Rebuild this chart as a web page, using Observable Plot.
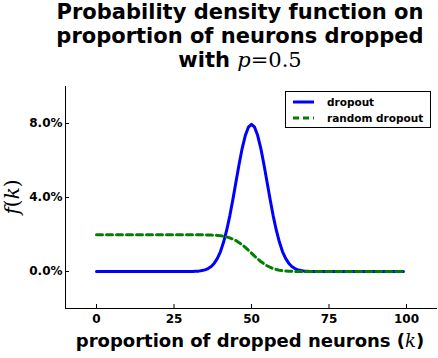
<!DOCTYPE html>
<html>
<head>
<meta charset="utf-8">
<script src="https://cdn.jsdelivr.net/npm/d3@7"></script>
<script src="https://cdn.jsdelivr.net/npm/@observablehq/plot@0.6"></script>
<style>
  body { margin: 0; background: #fff; }
  #wrap { position: relative; width: 438px; height: 358px; font-family: "DejaVu Sans", sans-serif; }
  .abs { position: absolute; white-space: nowrap; }
  #title { left: 0; top: 0; width: 438px; padding-left: 42px; box-sizing: border-box; text-align: center;
           font-size: 21px; font-weight: bold; line-height: 24px; padding-top: 0px; }
  .m { font-family: "DejaVu Serif", serif; font-weight: normal; }
  .mi { font-family: "DejaVu Serif", serif; font-style: italic; font-weight: normal; }
  #xlabel { left: 0; width: 438px; padding-left: 62px; box-sizing: border-box; text-align: center; top: 331px;
            font-size: 18px; font-weight: bold; line-height: 20px; }
  #ylabel { left: 12px; top: 197px; transform: translate(-50%, -50%) rotate(-90deg); font-size: 20px; line-height: 20px; }
  #legend { left: 285px; top: 91px; width: 144px; height: 35px; border: 1px solid #000; background: #fff; font-size: 10.5px; font-weight: bold; }
  #legend .row { position: absolute; left: 0; height: 16px; line-height: 16px; }
  #legend svg { position: absolute; left: 7px; top: 0; }
  #legend span { position: absolute; left: 41px; top: 0; }
</style>
</head>
<body>
<div id="wrap"></div>
<script>
// k = 0..99
const k = d3.range(0, 100);
const dropout = [
  0,0,0,0,0,0,0,0,0,0,
  0,0,0,0,0,0,0,0,0,0,
  0,0,0,0,0,0,0,0,0,0,
  0,0,0.0001,0.0002,0.0005,0.0009,0.0016,0.0027,0.0045,0.0071,
  0.0108,0.0159,0.0223,0.0301,0.0390,0.0485,0.0580,0.0666,0.0735,0.0780,
  0.0796,0.0780,0.0735,0.0666,0.0580,0.0485,0.0390,0.0301,0.0223,0.0159,
  0.0108,0.0071,0.0045,0.0027,0.0016,0.0009,0.0005,0.0002,0.0001,0,
  0,0,0,0,0,0,0,0,0,0,
  0,0,0,0,0,0,0,0,0,0,
  0,0,0,0,0,0,0,0,0,0
];
const randomDropout = [
  0.0198,0.0198,0.0198,0.0198,0.0198,0.0198,0.0198,0.0198,0.0198,0.0198,
  0.0198,0.0198,0.0198,0.0198,0.0198,0.0198,0.0198,0.0198,0.0198,0.0198,
  0.0198,0.0198,0.0198,0.0198,0.0198,0.0198,0.0198,0.0198,0.0198,0.0198,
  0.0198,0.0198,0.0198,0.0198,0.0198,0.0198,0.0197,0.0197,0.0196,0.0195,
  0.0193,0.0191,0.0187,0.0182,0.0175,0.0167,0.0156,0.0144,0.0130,0.0115,
  0.0099,0.0083,0.0068,0.0054,0.0042,0.0031,0.0023,0.0016,0.0011,0.0007,
  0.0005,0.0003,0.0002,0.0001,0,0,0,0,0,0,
  0,0,0,0,0,0,0,0,0,0,
  0,0,0,0,0,0,0,0,0,0,
  0,0,0,0,0,0,0,0,0,0
];
const xTicks = [0, 25, 50, 75, 100];
const yTicks = [0, 0.04, 0.08];
const xDomain = [-10, 110];
const yDomain = [-0.02, 0.1];

const seriesDropout = k.map((v, i) => ({k: v, f: dropout[i]}));
const seriesRandom = k.map((v, i) => ({k: v, f: randomDropout[i]}));

const W = 438, H = 358, mt = 86, mb = 50, ml = 65, mr = 1;
const ih = H - mt - mb, iw = W - ml - mr;

const chart = Plot.plot({
  width: W, height: H,
  marginTop: mt, marginBottom: mb, marginLeft: ml, marginRight: mr,
  style: {fontFamily: "DejaVu Sans", fontSize: "12px", fontWeight: "bold", color: "#000", background: "transparent"},
  x: {domain: xDomain},
  y: {domain: yDomain},
  marks: [
    Plot.axisX({ticks: xTicks, tickSize: 0, tickPadding: 6, label: null, tickFormat: d3.format("d"), fontSize: 12}),
    Plot.axisY({ticks: yTicks, tickSize: 0, tickPadding: 3, label: null, tickFormat: d3.format(".1%"), fontSize: 12}),
    Plot.tickX(xTicks, {x: d => d, insetTop: ih - 4, stroke: "#000"}),
    Plot.tickY(yTicks, {y: d => d, insetRight: iw - 4, stroke: "#000"}),
    Plot.ruleX([xDomain[0]], {stroke: "#000"}),
    Plot.ruleY([yDomain[0]], {stroke: "#000"}),
    Plot.line(seriesDropout, {x: "k", y: "f", stroke: "#0000ff", strokeWidth: 3}),
    Plot.line(seriesRandom, {x: "k", y: "f", stroke: "#008000", strokeWidth: 3, strokeDasharray: "6,4"})
  ]
});

const wrap = document.getElementById("wrap");
wrap.appendChild(chart);
wrap.insertAdjacentHTML("beforeend", `
  <div id="title" class="abs">Probability density function on<br>proportion of neurons dropped<br>with <span class="mi">p</span><span class="m">=0.5</span></div>
  <div id="xlabel" class="abs">proportion of dropped neurons (<span class="mi">k</span>)</div>
  <div id="ylabel" class="abs"><span class="mi">f</span><span class="m">(</span><span class="mi">k</span><span class="m">)</span></div>
  <div id="legend" class="abs">
    <div class="row" style="top:2px"><svg width="26" height="16"><line x1="0" x2="21" y1="8" y2="8" stroke="#0000ff" stroke-width="3"/></svg><span>dropout</span></div>
    <div class="row" style="top:18px"><svg width="26" height="16"><line x1="0" x2="21" y1="8" y2="8" stroke="#008000" stroke-width="3" stroke-dasharray="6,4"/></svg><span>random dropout</span></div>
  </div>
`);
</script>
</body>
</html>
